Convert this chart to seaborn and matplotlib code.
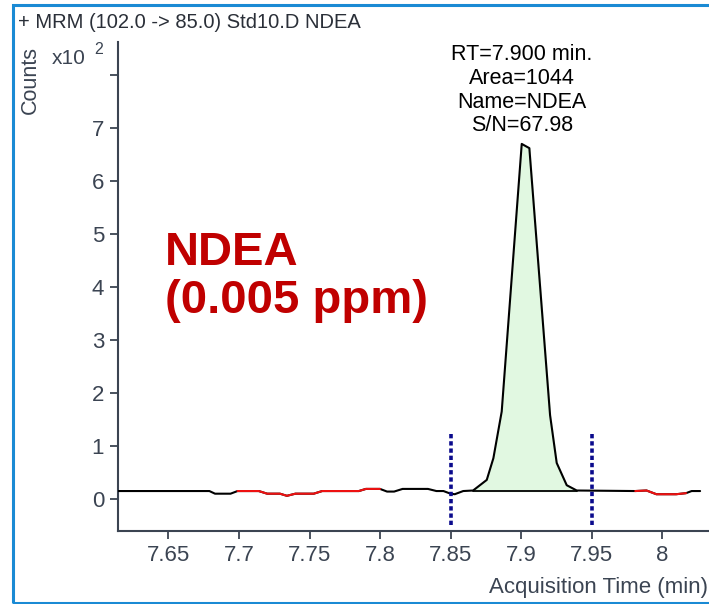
"""
MRM chromatogram – NDEA, Std10.D (0.005 ppm)
"""

import matplotlib.pyplot as plt
import matplotlib.patches as mpatches
import numpy as np
import pandas as pd
import seaborn as sns

sns.set_theme(style="white")
plt.rcParams["font.family"] = ["Liberation Sans", "DejaVu Sans"]

# ── data (counts in units of 10^2) ──────────────────────────────────────────
time = [7.614, 7.679, 7.683, 7.694, 7.699, 7.714, 7.720, 7.729, 7.734, 7.740,
        7.753, 7.759, 7.785, 7.790, 7.800, 7.805, 7.810, 7.816, 7.834, 7.840,
        7.845, 7.850, 7.853, 7.859, 7.866, 7.8757, 7.8804, 7.8863, 7.9005,
        7.9059, 7.9206, 7.9253, 7.9324, 7.9395, 7.981, 7.989, 7.996, 8.010,
        8.017, 8.021, 8.027]
counts = [0.15, 0.15, 0.10, 0.10, 0.15, 0.15, 0.10, 0.10, 0.06, 0.10,
          0.10, 0.15, 0.15, 0.19, 0.19, 0.14, 0.14, 0.19, 0.19, 0.15,
          0.15, 0.10, 0.09, 0.15, 0.16, 0.36, 0.77, 1.65, 6.70,
          6.62, 1.58, 0.68, 0.26, 0.16, 0.15, 0.16, 0.09, 0.09,
          0.11, 0.15, 0.15]

noise_windows = [(7.699, 7.800), (7.981, 8.017)]   # drawn in red
peak_start, peak_end, peak_base = 7.866, 7.9395, 0.15
int_bounds = [7.85, 7.95]

x_ticks = [7.65, 7.70, 7.75, 7.80, 7.85, 7.90, 7.95, 8.00]
x_ticklabels = ["7.65", "7.7", "7.75", "7.8", "7.85", "7.9", "7.95", "8"]
y_ticks = [0, 1, 2, 3, 4, 5, 6, 7, 8]
y_ticklabels = ["0", "1", "2", "3", "4", "5", "6", "7", ""]

df = pd.DataFrame({"time": time, "counts": counts})

AX_COL = "#3b4452"

# ── figure ──────────────────────────────────────────────────────────────────
fig = plt.figure(figsize=(7.09, 6.04), dpi=100)
ax = fig.add_axes([118 / 709, 73 / 604, 1 - 118 / 709, 489 / 604])

# peak fill + integration baseline
pk = df[(df["time"] >= peak_start) & (df["time"] <= peak_end)]
ax.fill_between(pk["time"], peak_base, pk["counts"], color="#e1f8e1", zorder=1)
ax.plot([peak_start, peak_end], [peak_base, peak_base], color="black", lw=1.3, zorder=2)

sns.lineplot(data=df, x="time", y="counts", color="black", lw=1.5, ax=ax,
             zorder=3, estimator=None, sort=False)
for lo, hi in noise_windows:
    seg = df[(df["time"] >= lo) & (df["time"] <= hi)]
    sns.lineplot(data=seg, x="time", y="counts", color="#ee1111", lw=1.5, ax=ax,
                 zorder=4, estimator=None, sort=False)

ax.vlines(int_bounds, -0.49, 1.26, colors="#0a0a8c", linestyles=(0, (1.2, 0.8)),
          lw=2.6, zorder=5)

ax.set_xlim(7.6142, 8.0333)
ax.set_ylim(-0.604, 8.623)
ax.set_xticks(x_ticks)
ax.set_xticklabels(x_ticklabels)
ax.set_yticks(y_ticks)
ax.set_yticklabels(y_ticklabels)
ax.set_xlabel(""); ax.set_ylabel("")
ax.tick_params(axis="both", direction="out", length=6, width=1.3, color=AX_COL,
               labelcolor=AX_COL, labelsize=16, bottom=True, left=True, pad=4)
for s in ["top", "right"]:
    ax.spines[s].set_visible(False)
for s in ["left", "bottom"]:
    ax.spines[s].set_color(AX_COL)
    ax.spines[s].set_linewidth(1.5)
ax.patch.set_alpha(0)

# ── text ────────────────────────────────────────────────────────────────────
W, H = 709, 604
def fx(px): return px / W
def fy(py): return 1 - py / H

fig.text(fx(18), fy(22), "+ MRM (102.0 -> 85.0) Std10.D NDEA", fontsize=14.5,
         color="#2a2f38", va="center", ha="left")
fig.text(fx(30), fy(80), "Counts", rotation=90, fontsize=15.5, color=AX_COL,
         va="center", ha="center")
fig.text(fx(52), fy(58), "x10", fontsize=15, color=AX_COL, va="center", ha="left")
fig.text(fx(94), fy(49), "2", fontsize=11.5, color=AX_COL, va="center", ha="left")
fig.text(fx(708), fy(588), "Acquisition Time (min)", fontsize=16, color=AX_COL,
         va="center", ha="right")

ax.text(7.9005, 8.58, "RT=7.900 min.\nArea=1044\nName=NDEA\nS/N=67.98",
        ha="center", va="top", fontsize=15.5, color="black", linespacing=1.17)

fig.text(fx(165), fy(313), "NDEA\n(0.005 ppm)", fontsize=34, fontweight="bold",
         color="#c00000", ha="left", va="baseline", linespacing=1.12)

# outer frame
fig.patches.append(mpatches.Rectangle((fx(13), fy(603)), 1.2, fy(5) - fy(603),
                                      transform=fig.transFigure, fill=False,
                                      edgecolor="#1a8ad4", lw=2.2, zorder=10))

fig.savefig("out.png", dpi=100)
